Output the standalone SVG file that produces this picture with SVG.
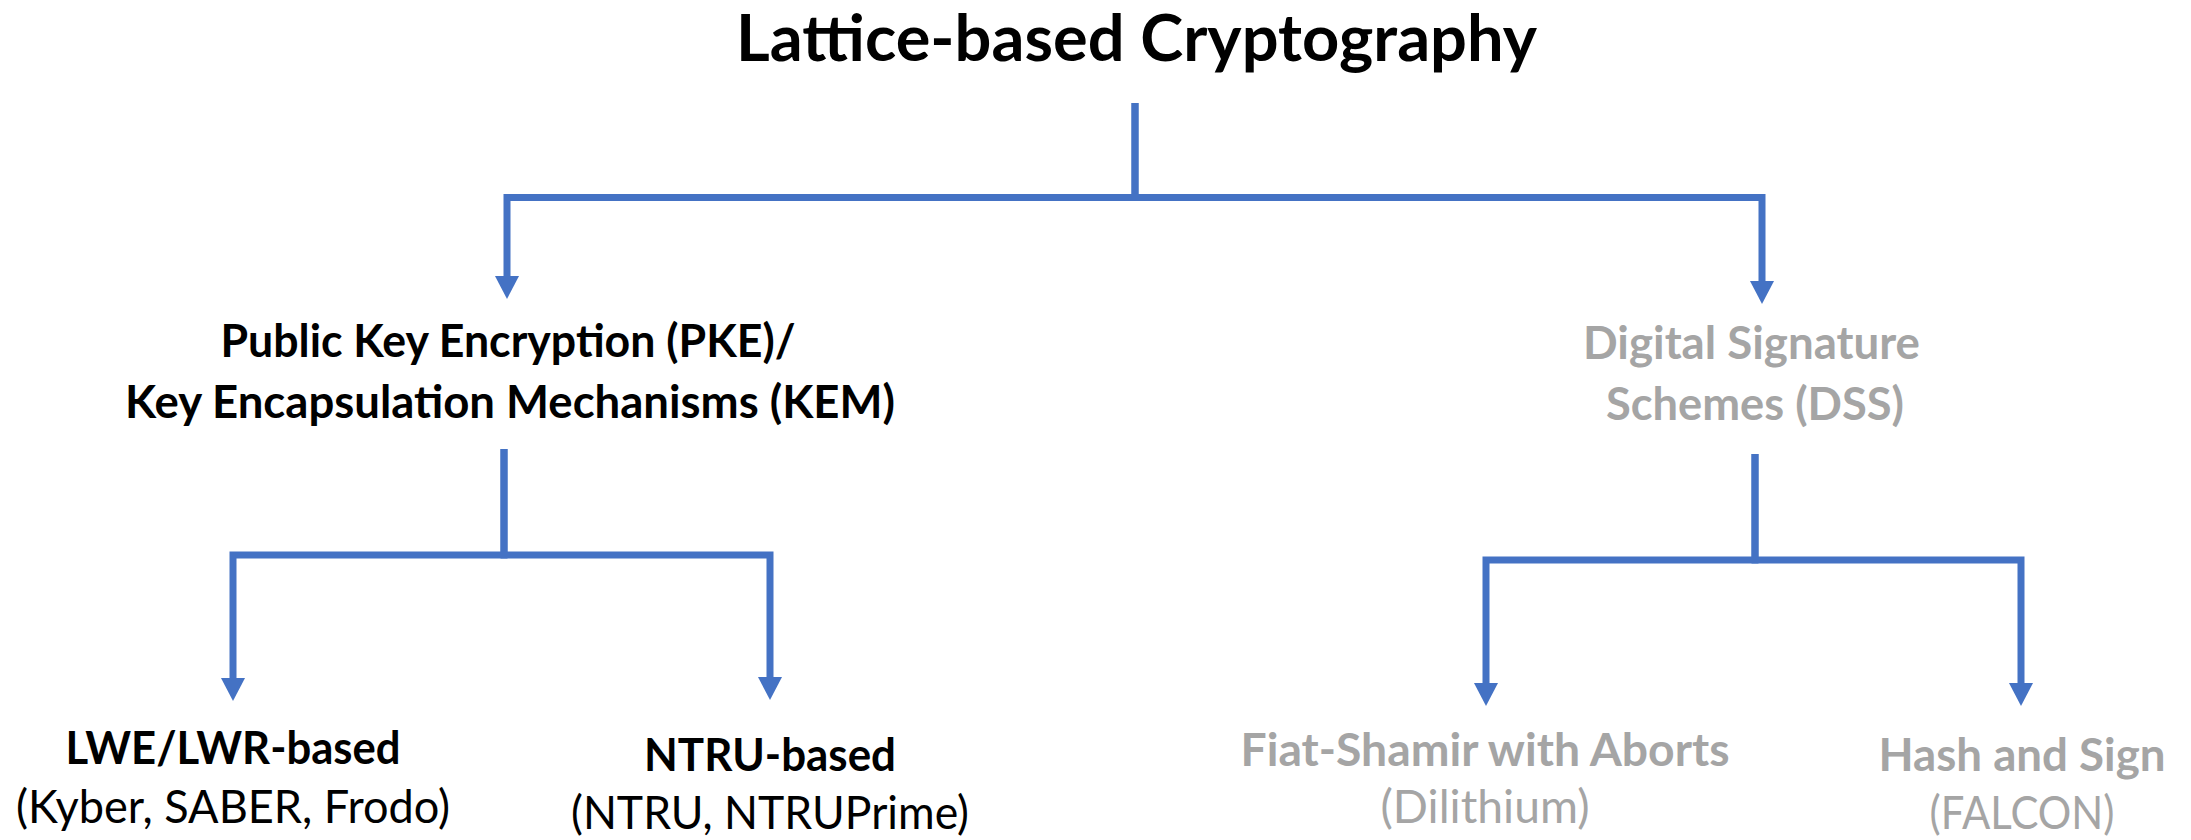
<svg xmlns="http://www.w3.org/2000/svg" width="2191" height="840" viewBox="0 0 2191 840">
  <style>
    text { font-family: Lato, "Liberation Sans", sans-serif; text-anchor: middle; }
    .title { font-size: 65px; font-weight: bold; fill: #000000; }
    .h { font-size: 46px; font-weight: bold; }
    .s { font-size: 46px; font-weight: normal; }
    .dark { fill: #000000; }
    .gray { fill: #A5A5A5; }
    .conn { fill: none; stroke: #4472C4; stroke-width: 7; stroke-linejoin: miter; stroke-linecap: butt; }
  </style>
  <defs>
    <marker id="arrow" viewBox="0 0 23 24" refX="0" refY="12" markerWidth="23" markerHeight="24" markerUnits="userSpaceOnUse" orient="auto">
      <polygon points="0,0 23,12 0,24" fill="#4472C4"/>
    </marker>
  </defs>
  <rect x="0" y="0" width="2191" height="840" fill="#ffffff"/>

  <g id="connectors">
    <path class="conn" d="M1135 103 V197.5 H507 V276" marker-end="url(#arrow)"/>
    <path class="conn" d="M1135 103 V197.5 H1762 V281" marker-end="url(#arrow)"/>
    <path class="conn" d="M504 449 V555 H233 V678" marker-end="url(#arrow)"/>
    <path class="conn" d="M504 449 V555 H770 V677" marker-end="url(#arrow)"/>
    <path class="conn" d="M1755 454 V560 H1486 V683" marker-end="url(#arrow)"/>
    <path class="conn" d="M1755 454 V560 H2021 V683" marker-end="url(#arrow)"/>
  </g>

  <g id="root">
    <text class="title" x="1136.5" y="61" textLength="801" lengthAdjust="spacingAndGlyphs">Lattice-based Cryptography</text>
  </g>

  <g id="pke">
    <text class="h dark" x="508" y="357" textLength="575" lengthAdjust="spacingAndGlyphs">Public Key Encryption (PKE)/</text>
    <text class="h dark" x="510" y="418" textLength="770" lengthAdjust="spacingAndGlyphs">Key Encapsulation Mechanisms (KEM)</text>
  </g>

  <g id="dss">
    <text class="h gray" x="1751.5" y="359" textLength="337" lengthAdjust="spacingAndGlyphs">Digital Signature</text>
    <text class="h gray" x="1755" y="420" textLength="298" lengthAdjust="spacingAndGlyphs">Schemes (DSS)</text>
  </g>

  <g id="lwe">
    <text class="h dark" x="233" y="764" textLength="335" lengthAdjust="spacingAndGlyphs">LWE/LWR-based</text>
    <text class="s dark" x="233" y="823" textLength="434" lengthAdjust="spacingAndGlyphs">(Kyber, SABER, Frodo)</text>
  </g>

  <g id="ntru">
    <text class="h dark" x="770" y="771" textLength="252" lengthAdjust="spacingAndGlyphs">NTRU-based</text>
    <text class="s dark" x="770" y="829" textLength="398" lengthAdjust="spacingAndGlyphs">(NTRU, NTRUPrime)</text>
  </g>

  <g id="fiat-shamir">
    <text class="h gray" x="1485" y="766" textLength="489" lengthAdjust="spacingAndGlyphs">Fiat-Shamir with Aborts</text>
    <text class="s gray" x="1485" y="823" textLength="209" lengthAdjust="spacingAndGlyphs">(Dilithium)</text>
  </g>

  <g id="hash-sign">
    <text class="h gray" x="2022" y="771" textLength="287" lengthAdjust="spacingAndGlyphs">Hash and Sign</text>
    <text class="s gray" x="2022" y="829" textLength="185" lengthAdjust="spacingAndGlyphs">(FALCON)</text>
  </g>
</svg>
